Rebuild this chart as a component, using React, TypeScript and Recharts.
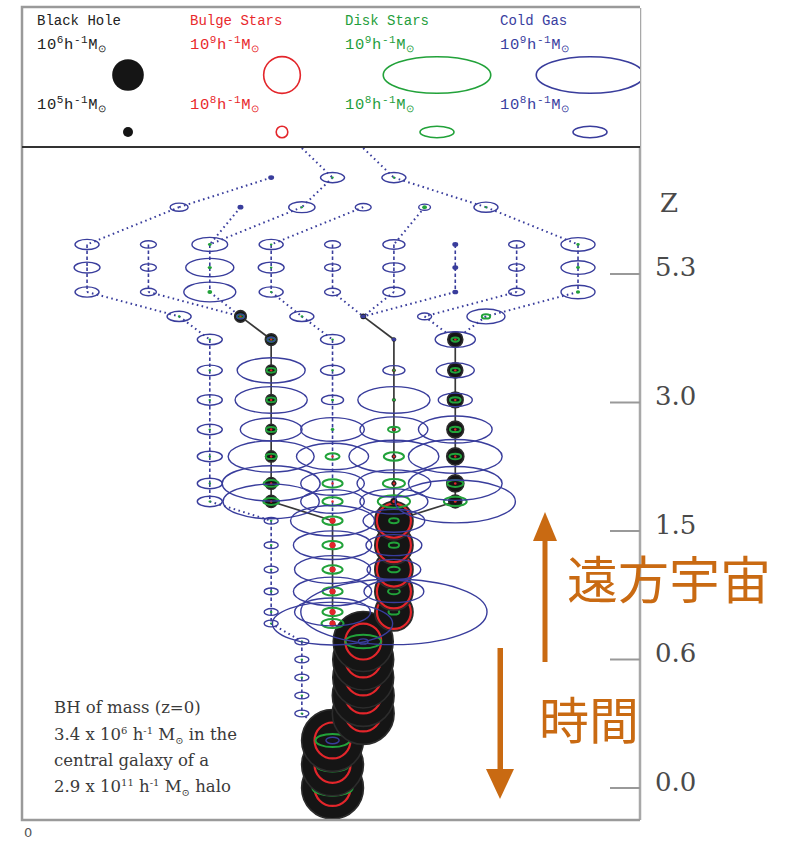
import React from 'react';
import { ComposedChart, Scatter, XAxis, YAxis, ReferenceLine } from 'recharts';

// redshift labels on the time axis (one tick per axis unit)
const zTicks = [0, 1, 2, 3, 4];
const zLabels = ['0.0', '0.6', '1.5', '3.0', '5.3'];

// position of every snapshot on the time axis
const snapT = [4.75, 4.52, 4.23, 4.05, 3.86, 3.67, 3.49, 3.25, 3.02, 2.79, 2.58, 2.37, 2.23, 2.08,
  1.89, 1.7, 1.53, 1.37, 1.28, 1.14, 1.0, 0.86, 0.72, 0.58, 0.37, 0.18, 0.0];
const incomingT = 4.98;

// legend key masses: black hole in 1e5, stars / gas in 1e8 h^-1 Msun
const legendBH = [10, 1];
const legendBHExp = ['6', '5'];
const legendStar = [10, 1];
const legendStarExp = ['9', '8'];

// id, column, snapshot, cold gas [1e8], disk [1e8], bulge [1e8], black hole [1e5]
const nodeRows = [
  ['a0', 3, 0, 0.03, 0, 0, 0], ['a1', 4, 0, 0.5, 0.005, 0, 0], ['a2', 5, 0, 0.5, 0.005, 0, 0],
  ['b0', 1.5, 1, 0.28, 0, 0, 0], ['b1', 2.5, 1, 0.03, 0, 0, 0], ['b2', 3.5, 1, 0.6, 0.005, 0, 0],
  ['b3', 4.5, 1, 0.22, 0, 0, 0], ['b4', 5.5, 1, 0.12, 0.02, 0, 0], ['b5', 6.5, 1, 0.5, 0.005, 0, 0],
  ['p0_2', 0, 2, 0.5, 0, 0, 0], ['p0_3', 0, 3, 0.58, 0, 0, 0], ['p0_4', 0, 4, 0.5, 0, 0, 0],
  ['p1_2', 1, 2, 0.22, 0, 0, 0], ['p1_3', 1, 3, 0.22, 0, 0, 0], ['p1_4', 1, 4, 0.22, 0, 0, 0],
  ['p2_2', 2, 2, 1.1, 0.012, 0, 0], ['p2_3', 2, 3, 2.0, 0.015, 0, 0], ['p2_4', 2, 4, 2.34, 0.02, 0, 0],
  ['p3_2', 3, 2, 0.5, 0.005, 0, 0], ['p3_3', 3, 3, 0.58, 0.005, 0, 0], ['p3_4', 3, 4, 0.5, 0.005, 0, 0],
  ['p4_2', 4, 2, 0.22, 0, 0, 0], ['p4_3', 4, 3, 0.22, 0, 0, 0], ['p4_4', 4, 4, 0.22, 0, 0, 0],
  ['p5_2', 5, 2, 0.42, 0, 0, 0], ['p5_3', 5, 3, 0.42, 0, 0, 0], ['p5_4', 5, 4, 0.42, 0, 0, 0],
  ['p6_2', 6, 2, 0.03, 0, 0, 0], ['p6_3', 6, 3, 0.03, 0, 0, 0], ['p6_4', 6, 4, 0.03, 0, 0, 0],
  ['p7_2', 7, 2, 0.22, 0, 0, 0], ['p7_3', 7, 3, 0.22, 0, 0, 0], ['p7_4', 7, 4, 0.22, 0, 0, 0],
  ['p8_2', 8, 2, 1.0, 0.01, 0, 0], ['p8_3', 8, 3, 1.0, 0.012, 0, 0], ['p8_4', 8, 4, 1.0, 0.015, 0, 0],
  ['e0', 1.5, 5, 0.5, 0.005, 0, 0], ['e1', 2.5, 5, 0.05, 0.04, 0.01, 1.2],
  ['e2', 3.5, 5, 0.5, 0.005, 0, 0], ['e3', 4.5, 5, 0.02, 0, 0, 0.25],
  ['e4', 5.5, 5, 0.17, 0, 0, 0], ['e5', 6.5, 5, 1.25, 0.06, 0, 0],
  ['q2_6', 2, 6, 0.54, 0.006, 0, 0], ['q2_7', 2, 7, 0.54, 0.006, 0, 0], ['q2_8', 2, 8, 0.54, 0.006, 0, 0],
  ['q2_9', 2, 9, 0.54, 0.006, 0, 0], ['q2_10', 2, 10, 0.54, 0.006, 0, 0], ['q2_11', 2, 11, 0.54, 0.006, 0, 0],
  ['q2_12', 2, 12, 0.54, 0.006, 0, 0],
  ['q3_6', 3, 6, 0.05, 0.05, 0.01, 1.2], ['q3_7', 3, 7, 4.0, 0.07, 0.01, 1.0], ['q3_8', 3, 8, 4.5, 0.07, 0.015, 1.0],
  ['q3_9', 3, 9, 3.3, 0.09, 0.015, 1.0], ['q3_10', 3, 10, 6.4, 0.1, 0.02, 1.1], ['q3_11', 3, 11, 8.3, 0.2, 0.03, 1.2],
  ['q3_12', 3, 12, 8.0, 0.22, 0.03, 1.3],
  ['q4_6', 4, 6, 0.5, 0.005, 0, 0], ['q4_7', 4, 7, 0.5, 0.006, 0, 0], ['q4_8', 4, 8, 0.42, 0.008, 0, 0],
  ['q4_9', 4, 9, 3.5, 0.012, 0, 0], ['q4_10', 4, 10, 4.5, 0.17, 0.01, 0], ['q4_11', 4, 11, 3.5, 0.35, 0.02, 0],
  ['q4_12', 4, 12, 3.5, 0.35, 0.02, 0],
  ['q5_6', 5, 6, 0.01, 0, 0, 0.15], ['q5_7', 5, 7, 0.42, 0.004, 0.03, 0.1], ['q5_8', 5, 8, 4.5, 0.01, 0.02, 0.1],
  ['q5_9', 5, 9, 4.0, 0.12, 0.03, 0.12], ['q5_10', 5, 10, 7.0, 0.35, 0.04, 0.15], ['q5_11', 5, 11, 4.7, 0.42, 0.05, 0.2],
  ['q5_12', 5, 12, 4.0, 0.9, 0.08, 0.4],
  ['q6_6', 6, 6, 1.4, 0.05, 0.02, 2.0], ['q6_7', 6, 7, 1.25, 0.07, 0.03, 2.0], ['q6_8', 6, 8, 1.0, 0.1, 0.03, 2.2],
  ['q6_9', 6, 9, 4.7, 0.1, 0.04, 2.5], ['q6_10', 6, 10, 7.6, 0.12, 0.04, 2.6], ['q6_11', 6, 11, 7.6, 0.22, 0.05, 2.6],
  ['q6_12', 6, 12, 12.5, 0.45, 0.06, 1.5],
  ['r3_13', 3, 13, 0.17, 0.004, 0, 0], ['r3_14', 3, 14, 0.17, 0.004, 0, 0], ['r3_15', 3, 15, 0.17, 0.004, 0, 0],
  ['r3_16', 3, 16, 0.17, 0.004, 0, 0], ['r3_17', 3, 17, 0.17, 0.004, 0, 0], ['r3_18', 3, 18, 0.17, 0.004, 0, 0],
  ['r4_13', 4, 13, 6.1, 0.35, 0.27, 0.25], ['r4_14', 4, 14, 5.3, 0.35, 0.27, 0.25], ['r4_15', 4, 15, 5.0, 0.35, 0.27, 0.25],
  ['r4_16', 4, 16, 5.3, 0.35, 0.27, 0.25], ['r4_17', 4, 17, 5.0, 0.35, 0.27, 0.25], ['r4_18', 4, 18, 12.5, 0.42, 0.27, 0.25],
  ['r5_13', 5, 13, 3.3, 0.08, 8.6, 13], ['r5_14', 5, 14, 2.7, 0.09, 8.6, 13], ['r5_15', 5, 15, 2.5, 0.12, 8.6, 13],
  ['r5_16', 5, 16, 3.1, 0.12, 8.6, 13], ['r5_17', 5, 17, 30, 0.1, 8.6, 13],
  ['s35_19', 3.5, 19, 0.17, 0.004, 0, 0], ['s35_20', 3.5, 20, 0.17, 0.004, 0, 0], ['s35_21', 3.5, 21, 0.17, 0.004, 0, 0],
  ['s35_22', 3.5, 22, 0.17, 0.004, 0, 0], ['s35_23', 3.5, 23, 0.17, 0.004, 0, 0],
  ['s45_19', 4.5, 19, 0.08, 1.1, 9.6, 32], ['s45_20', 4.5, 20, 0, 0.7, 9.6, 33], ['s45_21', 4.5, 21, 0, 0.7, 9.6, 33],
  ['s45_22', 4.5, 22, 0, 0.7, 9.6, 34], ['s45_23', 4.5, 23, 0, 0.7, 9.6, 34],
  ['f_24', 4, 24, 0.15, 1.0, 9.6, 34], ['f_25', 4, 25, 0, 1.0, 9.6, 34], ['f_26', 4, 26, 0, 1.4, 9.6, 34],
];

// progenitors entering from above the legend box
const incoming = [['u1', 3.5], ['u2', 4.5]];

// parent -> child, with the kind of branch
const mergeLinks = [
  ['u1', 'a1', 'merge'], ['u2', 'a2', 'merge'],
  ['a0', 'b0', 'merge'], ['a1', 'b2', 'merge'], ['a2', 'b5', 'merge'],
  ['b0', 'p0_2', 'merge'], ['b1', 'p2_2', 'merge'], ['b2', 'p2_2', 'merge'], ['b3', 'p3_2', 'merge'],
  ['b4', 'p5_2', 'merge'], ['b5', 'p8_2', 'merge'],
  ['p0_4', 'e0', 'merge'], ['p1_4', 'e1', 'merge'], ['p2_4', 'e1', 'merge'], ['p3_4', 'e2', 'merge'],
  ['p4_4', 'e3', 'merge'], ['p5_4', 'e3', 'merge'], ['p6_4', 'e3', 'merge'], ['p7_4', 'e4', 'merge'],
  ['p8_4', 'e5', 'merge'],
  ['e0', 'q2_6', 'merge'], ['e1', 'q3_6', 'bh'], ['e2', 'q4_6', 'merge'], ['e3', 'q5_6', 'bh'],
  ['e4', 'q6_6', 'merge'], ['e5', 'q6_6', 'merge'],
  ['q2_12', 'r3_13', 'merge'], ['q3_12', 'r4_13', 'bh'], ['q4_12', 'r4_13', 'gas'],
  ['q5_12', 'r5_13', 'bh'], ['q6_12', 'r5_13', 'bh'],
  ['r3_18', 's35_19', 'merge'], ['r4_18', 's45_19', 'bh'], ['r5_17', 's45_19', 'bh'],
  ['s35_23', 'f_24', 'merge'], ['s45_23', 'f_24', 'bh'],
];

// straight runs down one column: prefix, first snapshot, last snapshot, kind
const chains = [
  ['p0', 2, 4, 'gas'], ['p1', 2, 4, 'gas'], ['p2', 2, 4, 'gas'], ['p3', 2, 4, 'gas'], ['p4', 2, 4, 'gas'],
  ['p5', 2, 4, 'gas'], ['p6', 2, 4, 'gas'], ['p7', 2, 4, 'gas'], ['p8', 2, 4, 'gas'],
  ['q2', 6, 12, 'gas'], ['q3', 6, 12, 'bh'], ['q4', 6, 12, 'gas'], ['q5', 6, 12, 'bh'], ['q6', 6, 12, 'bh'],
  ['r3', 13, 18, 'gas'], ['r4', 13, 18, 'bh'], ['r5', 13, 17, 'bh'],
  ['s35', 19, 23, 'gas'], ['s45', 19, 23, 'bh'], ['f', 24, 26, 'bh'],
];

const GAS = '#393d9c';
const DISK = '#22a23a';
const BULGE = '#e3262b';
const BH = '#151515';
const ORANGE = '#c96a12';

const gasRx = (m: number) => 17 * Math.sqrt(m);
const bulgeR = (m: number) => 5.8 * Math.sqrt(m);
const bhR = (m: number) => 5.3 * Math.sqrt(m);

const nodes = [
  ...nodeRows.map(([id, c, s, gas, disk, bulge, bh]: any) => ({ id, c, t: snapT[s], gas, disk, bulge, bh })),
  ...incoming.map(([id, c]: any) => ({ id, c, t: incomingT, gas: 0, disk: 0, bulge: 0, bh: 0 })),
];
const byId = new Map(nodes.map((n) => [n.id, n]));

const links: any[] = [...mergeLinks];
chains.forEach(([p, a, b, kind]: any) => {
  for (let r = a; r < b; r++) links.push([`${p}_${r}`, `${p}_${r + 1}`, kind]);
});

// later (lower) galaxies first, so each earlier one covers the top of the next
const starNodes = nodes.filter((n) => n.disk + n.bulge + n.bh > 0).sort((a, b) => a.t - b.t);
const gasNodes = nodes.filter((n) => n.gas > 0);

const linkStyle: any = {
  merge: { stroke: GAS, strokeWidth: 2, strokeDasharray: '1.6 3.4' },
  gas: { stroke: GAS, strokeWidth: 1.6, strokeDasharray: '3.5 2.5' },
  bh: { stroke: '#383838', strokeWidth: 1.7 },
};

const seg = (l: any) => {
  const a: any = byId.get(l[0]);
  const b: any = byId.get(l[1]);
  return [{ x: a.c, y: a.t }, { x: b.c, y: b.t }];
};

const StarShape = (props: any) => {
  const { cx, cy } = props;
  const p = props.payload || props;
  const r = bhR(p.bh);
  const rb = bulgeR(p.bulge);
  const rd = gasRx(p.disk);
  return (
    <g>
      {p.bh > 0 && <circle cx={cx} cy={cy} r={Math.max(r, 1.5)} fill={BH} stroke="#2c2c2c" strokeWidth={r > 4 ? 1.6 : 0.5} />}
      {p.bulge > 0 && (rb < 3.5
        ? <circle cx={cx} cy={cy} r={Math.max(rb, 1.2)} fill={BULGE} />
        : <circle cx={cx} cy={cy} r={rb} fill="none" stroke={BULGE} strokeWidth={2.2} />)}
      {p.disk > 0 && (rd < 3
        ? <ellipse cx={cx} cy={cy} rx={Math.max(rd, 1.3)} ry={Math.max(rd, 1.3) * 0.8} fill={DISK} />
        : <ellipse cx={cx} cy={cy} rx={rd} ry={rd * 0.34 + 0.8} fill="none" stroke={DISK} strokeWidth={2} />)}
    </g>
  );
};

const GasShape = (props: any) => {
  const { cx, cy } = props;
  const p = props.payload || props;
  const rx = gasRx(p.gas);
  if (rx < 3) {
    const r = Math.max(rx, 2.2);
    return <ellipse cx={cx} cy={cy} rx={r} ry={r * 0.8} fill={GAS} />;
  }
  return <ellipse cx={cx} cy={cy} rx={rx} ry={rx * 0.34 + 1} fill="none" stroke={GAS} strokeWidth={1.4} />;
};

const ZTick = (props: any) => {
  const { x, y, payload } = props;
  const i = zTicks.indexOf(Number(payload.value));
  return (
    <g>
      <line x1={x - 30} x2={x} y1={y} y2={y} stroke="#999" strokeWidth={2} />
      <text x={x + 15} y={y + 2.5} fill="#4a4a4a" fontSize={26} fontFamily="DejaVu Serif">{zLabels[i]}</text>
    </g>
  );
};

const MassLabel = ({ x, y, exp, color }: any) => (
  <text x={x} y={y} fill={color} fontSize={15.5} fontFamily="Liberation Mono" letterSpacing={0.6}>
    10<tspan dy={-6} fontSize={11}>{exp}</tspan>
    <tspan dy={6}>h</tspan>
    <tspan dy={-6} fontSize={11}>-1</tspan>
    <tspan dy={6}>M</tspan>
    <tspan dy={3} fontSize={10}>⊙</tspan>
  </text>
);

const legendCols = [
  { title: 'Black Hole', color: '#222', x: 37, kind: 'bh', cx: 128 },
  { title: 'Bulge Stars', color: '#e8282c', x: 190, kind: 'bulge', cx: 282 },
  { title: 'Disk Stars', color: '#1f9e3c', x: 345, kind: 'disk', cx: 437 },
  { title: 'Cold Gas', color: '#3a3ea0', x: 500, kind: 'gas', cx: 590 },
];

const Legend = () => (
  <g clipPath="url(#legendClip)">
    <rect x={22} y={7} width={618} height={140} fill="#fff" />
    {legendCols.map((col) => (
      <g key={col.title}>
        <text x={col.x} y={25} fill={col.color} fontSize={14} fontFamily="Liberation Mono">{col.title}</text>
        {[0, 1].map((k) => {
          const y = k === 0 ? 75 : 132;
          const exp = col.kind === 'bh' ? legendBHExp[k] : legendStarExp[k];
          let mark;
          if (col.kind === 'bh') mark = <circle cx={col.cx} cy={y} r={5 * Math.sqrt(legendBH[k])} fill={BH} />;
          else if (col.kind === 'bulge') mark = <circle cx={col.cx} cy={y} r={bulgeR(legendStar[k])} fill="none" stroke={BULGE} strokeWidth={1.6} />;
          else {
            const rx = gasRx(legendStar[k]);
            mark = <ellipse cx={col.cx} cy={y} rx={rx} ry={rx * 0.34} fill="none" stroke={col.kind === 'disk' ? DISK : GAS} strokeWidth={1.6} />;
          }
          return (
            <g key={k}>
              <MassLabel x={col.x} y={k === 0 ? 49 : 109} exp={exp} color={col.color} />
              {mark}
            </g>
          );
        })}
      </g>
    ))}
  </g>
);

export default function App() {
  const under = links.filter((l) => l[2] !== 'bh');
  const over = links.filter((l) => l[2] === 'bh');
  return (
    <div style={{ position: 'absolute', left: 0, top: 0, width: 793, height: 842, background: '#fff' }}>
      <ComposedChart width={793} height={842} margin={{ top: 8, right: 0, bottom: 22, left: 22 }}>
        <XAxis type="number" dataKey="c" domain={[-1.06, 9.01]} hide allowDataOverflow />
        <YAxis
          type="number"
          dataKey="t"
          orientation="right"
          domain={[-0.249, 6.07]}
          ticks={zTicks}
          interval={0}
          width={153}
          tickSize={0}
          tickMargin={0}
          tickLine={false}
          tick={<ZTick />}
          axisLine={{ stroke: '#a8a8a8', strokeWidth: 2.5 }}
          allowDataOverflow
        />
        {under.map((l, i) => (
          <ReferenceLine key={`u${i}`} segment={seg(l)} ifOverflow="visible" {...linkStyle[l[2]]} />
        ))}
        <Scatter data={starNodes} shape={StarShape} isAnimationActive={false} />
        <Scatter data={gasNodes} shape={GasShape} isAnimationActive={false} />
        {over.map((l, i) => (
          <ReferenceLine key={`o${i}`} segment={seg(l)} ifOverflow="visible" {...linkStyle.bh} />
        ))}
      </ComposedChart>
      <svg width={793} height={842} style={{ position: 'absolute', left: 0, top: 0, pointerEvents: 'none' }}>
        <defs>
          <clipPath id="legendClip">
            <rect x={22} y={7} width={618} height={141} />
          </clipPath>
        </defs>
        <Legend />
        <polyline points="640,7 22,7 22,820 640,820" fill="none" stroke="#9a9a9a" strokeWidth={2.5} />
        <line x1={22} x2={640} y1={147} y2={147} stroke="#333" strokeWidth={2} />
        <text x={660} y={212} fill="#4a4a4a" fontSize={26} fontFamily="DejaVu Serif">Z</text>
        <text x={24} y={837} fill="#555" fontSize={13} fontFamily="DejaVu Sans">0</text>
        <g fill="#3a3a3a" fontSize={16.5} fontFamily="DejaVu Serif">
          <text x={54} y={713}>BH of mass (z=0)</text>
          <text x={54} y={740}>
            3.4 x 10<tspan dy={-6} fontSize={10}>6</tspan><tspan dy={6}> h</tspan>
            <tspan dy={-6} fontSize={10}>-1</tspan><tspan dy={6}> M</tspan>
            <tspan dy={4} fontSize={10}>⊙</tspan><tspan dy={-4}> in the</tspan>
          </text>
          <text x={54} y={766}>central galaxy of a</text>
          <text x={54} y={792}>
            2.9 x 10<tspan dy={-6} fontSize={10}>11</tspan><tspan dy={6}> h</tspan>
            <tspan dy={-6} fontSize={10}>-1</tspan><tspan dy={6}> M</tspan>
            <tspan dy={4} fontSize={10}>⊙</tspan><tspan dy={-4}> halo</tspan>
          </text>
        </g>
        <g fill={ORANGE}>
          <rect x={542.5} y={538} width={5} height={124} />
          <polygon points="533,541 557,541 545,512" />
          <rect x={497.5} y={648} width={5.5} height={124} />
          <polygon points="486,769 514,769 500,799" />
          <text x={567} y={599} fontSize={51} fontFamily="Noto Sans CJK JP">遠方宇宙</text>
          <text x={539} y={739} fontSize={50} fontFamily="Noto Sans CJK JP">時間</text>
        </g>
      </svg>
    </div>
  );
}
